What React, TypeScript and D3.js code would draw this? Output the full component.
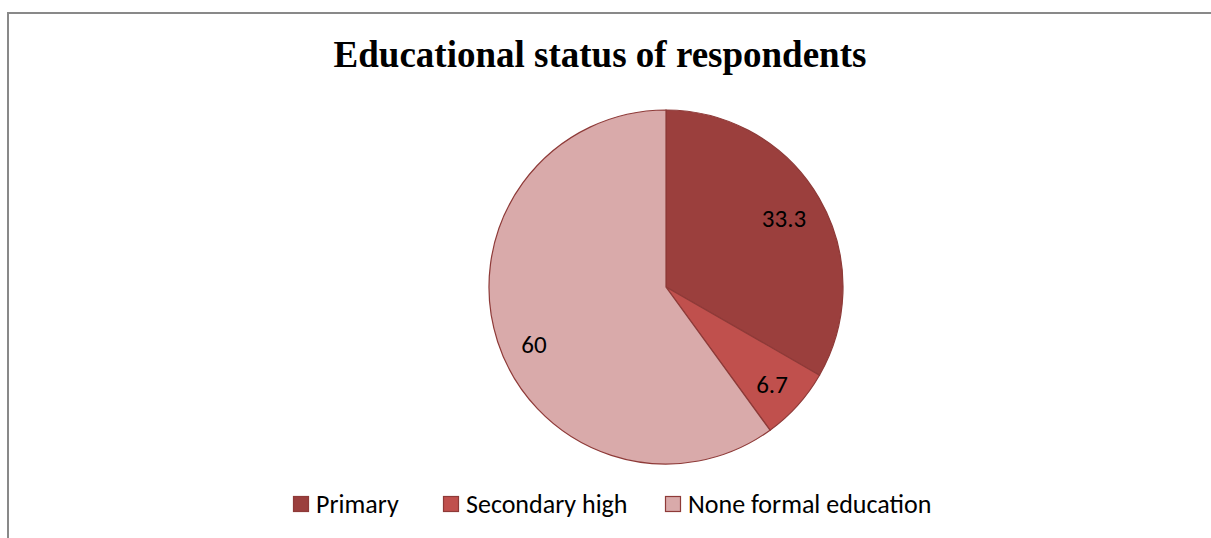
import React from "react";
import * as d3 from "d3";

const categories = ["Primary", "Secondary high", "None formal education"];
const values = [33.3, 6.7, 60];
const labels = ["33.3", "6.7", "60"];
const colors = ["#9B3F3D", "#C0504D", "#D9AAAA"];

const W = 1211;
const H = 538;

export default function App() {
  const cx = 666;
  const cy = 287;
  const r = 177;
  const pie = d3.pie<number>().sort(null).value((d) => d)(values);
  const arc = d3.arc<d3.PieArcDatum<number>>().innerRadius(0).outerRadius(r);
  const labelArc = d3.arc<d3.PieArcDatum<number>>().innerRadius(r * 0.79).outerRadius(r * 0.79);
  const nudge = [[-3, 1], [2, 4], [1, 14]];
  const legendX = [293, 443, 665];
  const font = "Carlito, Calibri, Lato, sans-serif";
  return (
    <svg width={W} height={H} style={{ position: "absolute", left: 0, top: 0, background: "#fff" }}>
      <rect x={8} y={13} width={1300} height={700} fill="#fff" stroke="#898989" strokeWidth={2} />
      <text x={600} y={67} textAnchor="middle" fontFamily="'Liberation Serif', 'Times New Roman', serif" fontWeight="bold" fontSize={37}>
        Educational status of respondents
      </text>
      <g transform={`translate(${cx},${cy})`}>
        {pie.map((p, i) => (
          <path key={i} d={arc(p) || ""} fill={colors[i]} stroke="#8E3A38" strokeWidth={1.2} />
        ))}
        {pie.map((p, i) => {
          const [x, y] = labelArc.centroid(p);
          return (
            <text key={"l" + i} x={x + nudge[i][0]} y={y + nudge[i][1]} dy="0.35em" textAnchor="middle" fontFamily={font} fontSize={25}>
              {labels[i]}
            </text>
          );
        })}
      </g>
      {categories.map((c, i) => (
        <g key={"lg" + i} transform={`translate(${legendX[i]},496)`}>
          <rect x={0.5} y={0.5} width={15} height={15} fill={colors[i]} stroke="#8E3A38" strokeWidth={1.2} />
          <text x={23} y={16.5} fontFamily={font} fontSize={26}>
            {c}
          </text>
        </g>
      ))}
    </svg>
  );
}
